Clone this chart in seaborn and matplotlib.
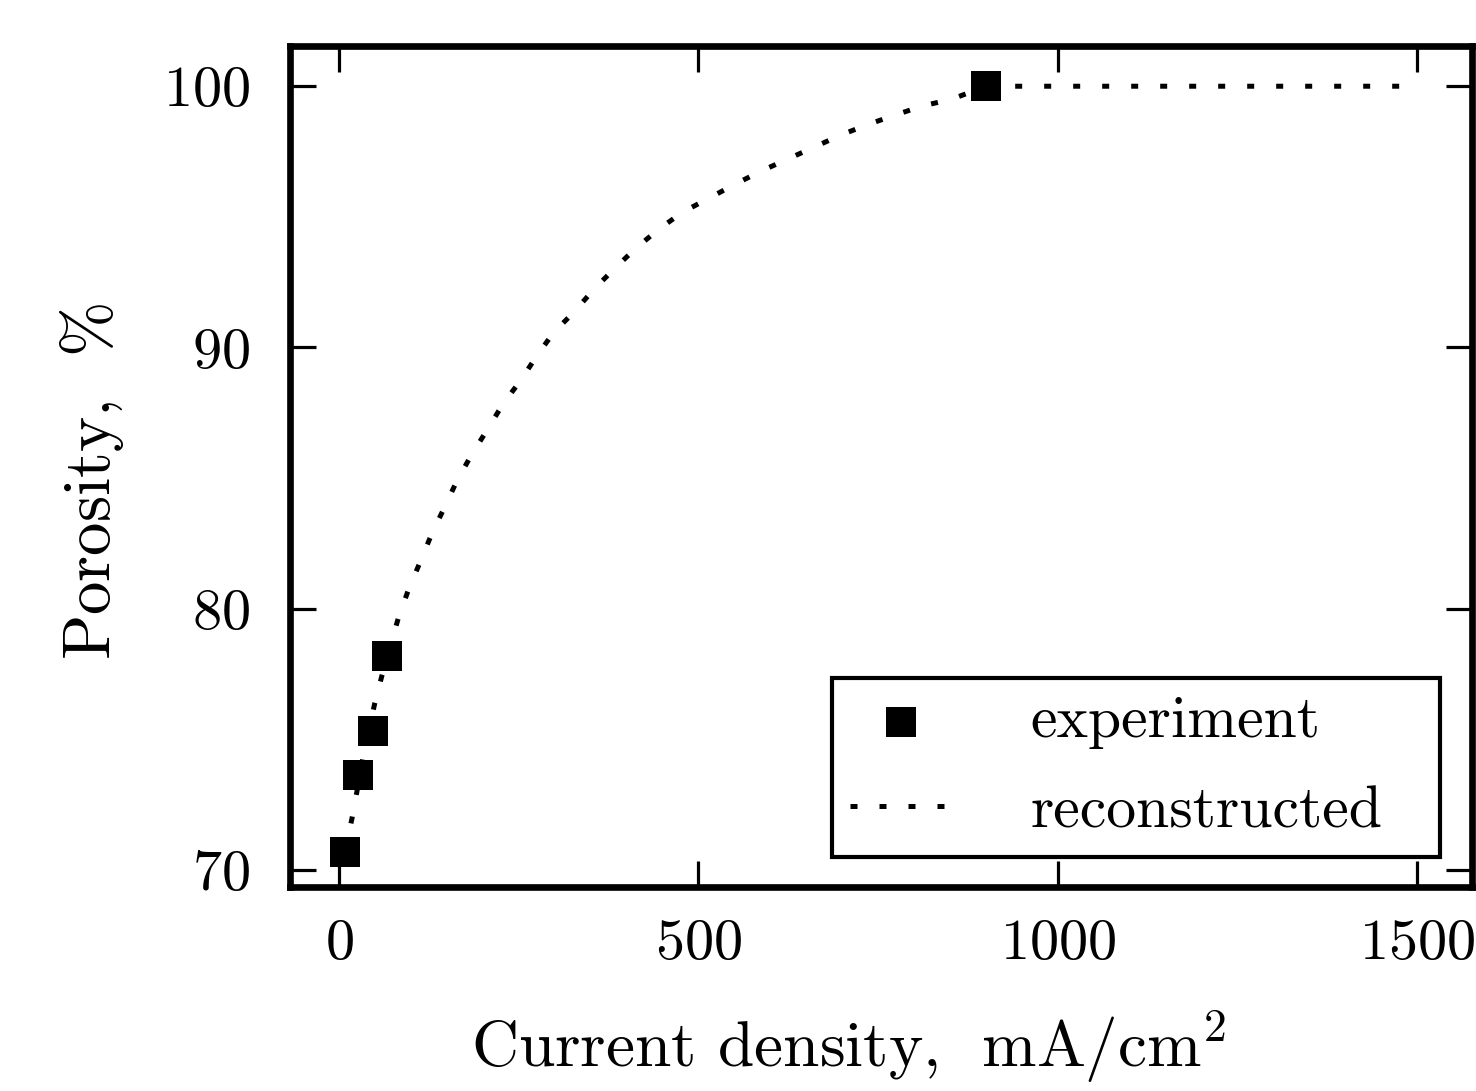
import matplotlib
matplotlib.use("Agg")
import matplotlib.pyplot as plt
import seaborn as sns
import pandas as pd

# experiment data
exp_current = [8, 27, 47, 67, 900]
exp_porosity = [70.7, 73.64, 75.32, 78.19, 100.0]

# reconstructed curve
rec_current = [8, 18, 25, 33, 50, 60, 83, 97, 113, 129, 147, 164, 185, 207, 228,
               253, 275, 298, 328, 355, 384, 413, 445, 478, 515, 551, 587, 624,
               661, 698, 734, 773, 811, 853, 900, 1000, 1200, 1500]
rec_porosity = [70.7, 71.95, 73.0, 74.25, 76.4, 77.46, 79.68, 80.75, 81.79, 82.86,
                83.89, 84.89, 85.92, 86.88, 87.83, 88.75, 89.67, 90.55, 91.39,
                92.24, 93.04, 93.80, 94.53, 95.18, 95.72, 96.25, 96.75, 97.21,
                97.67, 98.13, 98.52, 98.89, 99.24, 99.51, 100.0, 100.0, 100.0, 100.0]

x_ticks = [0, 500, 1000, 1500]
y_ticks = [70, 80, 90, 100]

sns.set_style("ticks")
plt.rcParams["font.family"] = "serif"
plt.rcParams["font.serif"] = ["cmr10"]
plt.rcParams["mathtext.fontset"] = "cm"
plt.rcParams["axes.formatter.use_mathtext"] = True
plt.rcParams["axes.unicode_minus"] = False
plt.rcParams["text.color"] = "black"
plt.rcParams["axes.labelcolor"] = "black"
plt.rcParams["xtick.color"] = "black"
plt.rcParams["ytick.color"] = "black"

fig = plt.figure(figsize=(14.76, 10.91), dpi=100)
ax = fig.add_axes([0.1965, 0.187, 0.8008, 0.7706])

exp_df = pd.DataFrame({"x": exp_current, "y": exp_porosity})
rec_df = pd.DataFrame({"x": rec_current, "y": rec_porosity})

sns.scatterplot(data=exp_df, x="x", y="y", ax=ax, marker="s", s=480,
                color="black", edgecolor="black", linewidth=0,
                label="experiment", zorder=3)
sns.lineplot(data=rec_df, x="x", y="y", ax=ax, color="black", lw=3.6,
             linestyle=(0, (1.4, 4.4)), estimator=None, sort=False,
             label="reconstructed", zorder=4)
for ln in ax.get_lines():
    ln.set_dash_capstyle("butt")

ax.set_xlim(-68, 1576)
ax.set_ylim(69.35, 101.53)
ax.set_xticks(x_ticks)
ax.set_yticks(y_ticks)
ax.tick_params(direction="in", length=19, width=2.3, top=True, right=True,
               labelsize=42, colors="black")
ax.tick_params(axis="x", pad=23)
ax.tick_params(axis="y", pad=29)
for sp in ax.spines.values():
    sp.set_linewidth(4.8)
    sp.set_color("black")

ax.set_xlabel(r"Current density, $\ \mathrm{mA/cm^2}$", fontsize=47, color="black")
ax.set_ylabel(r"Porosity, $\ \%$", fontsize=48, color="black")
ax.xaxis.set_label_coords(0.473, -0.1443)
ax.yaxis.set_label_coords(-0.139, 0.483)

leg = ax.legend(loc="lower left", bbox_to_anchor=(0.4585, 0.0357, 0.5144, 0.2),
                mode="expand", borderaxespad=0,
                fontsize=43, frameon=True, fancybox=False,
                edgecolor="black", framealpha=1, handlelength=1.7,
                handletextpad=1.32, labelspacing=0.6, borderpad=0.3)
leg.get_frame().set_linewidth(3)
for t in leg.get_texts():
    t.set_color("black")

fig.savefig("out.png", dpi=100)
